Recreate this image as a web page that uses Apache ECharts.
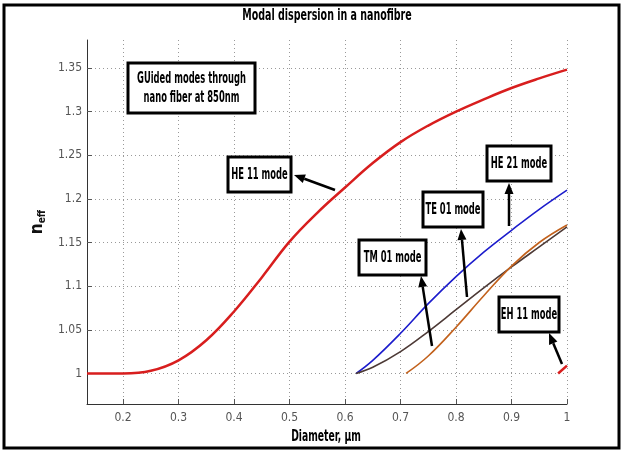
<!DOCTYPE html>
<html>
<head>
<meta charset="utf-8">
<script src="https://cdn.jsdelivr.net/npm/echarts@6/dist/echarts.min.js"></script>
<style>
  html, body { margin: 0; padding: 0; background: #fff; }
  #chart { width: 624px; height: 454px; }
</style>
</head>
<body>
<div id="chart"></div>
<script>
// Effective index versus fibre diameter for the guided modes (850 nm)
const xTicks = [0.2, 0.3, 0.4, 0.5, 0.6, 0.7, 0.8, 0.9, 1];
const yTicks = [1, 1.05, 1.1, 1.15, 1.2, 1.25, 1.3, 1.35];

const he11X = [0.135, 0.15, 0.20, 0.25, 0.30, 0.35, 0.40, 0.45, 0.50, 0.55, 0.60, 0.65, 0.70, 0.75, 0.80, 0.85, 0.90, 0.95, 1.0];
const he11Y = [1.0, 1.0, 1.0, 1.003, 1.015, 1.038, 1.071, 1.110, 1.151, 1.184, 1.213, 1.241, 1.265, 1.284, 1.300, 1.314, 1.327, 1.338, 1.348];

const he21X = [0.62, 0.65, 0.70, 0.75, 0.80, 0.85, 0.90, 0.95, 1.0];
const he21Y = [1.0, 1.015, 1.046, 1.080, 1.111, 1.139, 1.164, 1.188, 1.210];

const te01X = [0.62, 0.65, 0.70, 0.75, 0.80, 0.85, 0.90, 0.95, 1.0];
const te01Y = [1.0, 1.007, 1.025, 1.048, 1.073, 1.098, 1.122, 1.145, 1.168];

const tm01X = [0.71, 0.75, 0.80, 0.85, 0.90, 0.95, 1.0];
const tm01Y = [1.0, 1.020, 1.053, 1.089, 1.123, 1.150, 1.170];

const eh11X = [0.984, 1.0];
const eh11Y = [1.0, 1.009];

const FONT = '"DejaVu Sans Condensed", "Liberation Sans", sans-serif';

function pairs(xs, ys) { return xs.map((x, i) => [x, ys[i]]); }

function curve(name, xs, ys, color, width) {
  return {
    name: name, type: 'line', data: pairs(xs, ys),
    smooth: 0.4, showSymbol: false, silent: true,
    lineStyle: { color: color, width: width },
    itemStyle: { color: color }, z: 3
  };
}

// Narrow bold text, squeezed horizontally around its centre
function narrowText(text, cx, cy, size, sx, lh) {
  return {
    type: 'text', x: cx, y: cy, scaleX: sx, scaleY: 1,
    style: { text: text, font: 'bold ' + size + 'px ' + FONT, fill: '#000',
             align: 'center', verticalAlign: 'middle', lineHeight: lh || size + 4 },
    z: 11, silent: true
  };
}

// Boxed labels with arrows pointing at the curves
const labels = [
  { text: 'GUided modes through\nnano fiber at 850nm', box: [128, 63, 127, 50] },
  { text: 'HE 11 mode', box: [228, 157, 63, 35], tail: [335, 190], head: [294, 175] },
  { text: 'HE 21 mode', box: [487, 146, 64, 35], tail: [509, 226], head: [509, 183] },
  { text: 'TE 01 mode', box: [423, 192, 60, 35], tail: [467, 297], head: [461, 229] },
  { text: 'TM 01 mode', box: [359, 240, 67, 35], tail: [432, 346], head: [421, 276] },
  { text: 'EH 11 mode', box: [499, 297, 60, 35], tail: [562, 364], head: [549, 333] }
];

const graphics = [
  { type: 'rect', shape: { x: 4, y: 5, width: 615, height: 443 },
    style: { fill: 'none', stroke: '#000', lineWidth: 3 }, z: 20, silent: true },
  narrowText('Modal dispersion in a nanofibre', 327, 16, 16, 0.66),
  narrowText('Diameter, \u03bcm', 326, 437, 16, 0.64)
];
labels.forEach(l => {
  const [bx, by, bw, bh] = l.box;
  graphics.push({
    type: 'rect', shape: { x: bx, y: by, width: bw, height: bh },
    style: { fill: '#fff', stroke: '#000', lineWidth: 3 }, z: 10
  });
  graphics.push(narrowText(l.text, bx + bw / 2, by + bh / 2 + 1, 15, 0.62, 19));
  if (l.tail) {
    const [tx, ty] = l.tail, [hx, hy] = l.head;
    const dx = hx - tx, dy = hy - ty, len = Math.hypot(dx, dy);
    const ux = dx / len, uy = dy / len;
    const al = 11, aw = 4.5;
    const bxp = hx - ux * al, byp = hy - uy * al;
    graphics.push({
      type: 'line', shape: { x1: tx, y1: ty, x2: bxp, y2: byp },
      style: { stroke: '#000', lineWidth: 2.5 }, z: 9
    });
    graphics.push({
      type: 'polygon',
      shape: { points: [[hx, hy], [bxp - uy * aw, byp + ux * aw], [bxp + uy * aw, byp - ux * aw]] },
      style: { fill: '#000' }, z: 9
    });
  }
});

const chart = echarts.init(document.getElementById('chart'));
chart.setOption({
  backgroundColor: '#fff',
  animation: false,
  grid: { left: 87, right: 57, top: 40, bottom: 50 },
  xAxis: {
    type: 'value', min: 0.135, max: 1.0,
    axisLine: { show: true, lineStyle: { color: '#333', width: 1 } },
    axisTick: { show: true, inside: true, length: 5, customValues: xTicks, lineStyle: { color: '#555' } },
    axisLabel: { customValues: xTicks, fontFamily: FONT, fontSize: 12, color: '#555', margin: 8,
                 formatter: v => String(+v.toFixed(2)) },
    splitLine: { show: true, lineStyle: { color: '#999', type: [1, 3], width: 1 } }
  },
  yAxis: {
    type: 'value', min: 0.965, max: 1.382,
    name: '{n|n}{s|eff}', nameLocation: 'middle', nameGap: 25, nameRotate: 90,
    nameTextStyle: { rich: {
      n: { fontFamily: FONT, fontWeight: 'bold', fontSize: 17, color: '#111' },
      s: { fontFamily: FONT, fontWeight: 'bold', fontSize: 10, color: '#111', verticalAlign: 'bottom', padding: [8, 0, 0, 0] }
    } },
    axisLine: { show: true, lineStyle: { color: '#333', width: 1 } },
    axisTick: { show: true, inside: true, length: 5, customValues: yTicks, lineStyle: { color: '#555' } },
    axisLabel: { customValues: yTicks, fontFamily: FONT, fontSize: 12, color: '#555', margin: 5,
                 formatter: v => String(+v.toFixed(2)) },
    splitLine: { show: true, lineStyle: { color: '#999', type: [1, 3], width: 1 } }
  },
  series: [
    curve('HE 11', he11X, he11Y, '#d81e1e', 2.5),
    curve('HE 21', he21X, he21Y, '#1c1ccc', 1.6),
    curve('TE 01', te01X, te01Y, '#4d3a36', 1.6),
    curve('TM 01', tm01X, tm01Y, '#c2611c', 1.6),
    curve('EH 11', eh11X, eh11Y, '#d81e1e', 2.5)
  ],
  graphic: graphics
});
</script>
</body>
</html>
